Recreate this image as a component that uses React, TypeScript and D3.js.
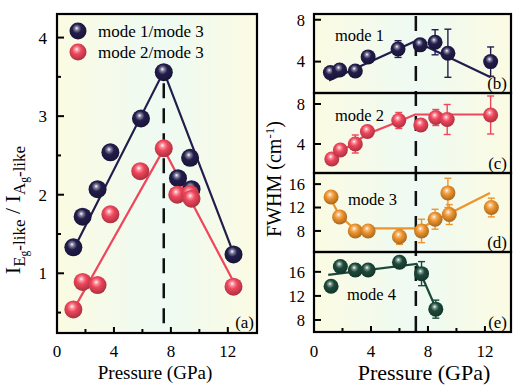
import React from "react";
import * as d3 from "d3";

// ---- panel (a): intensity ratio ----
const pressA1 = [1.15, 1.8, 2.85, 3.75, 5.9, 7.5, 8.5, 9.35, 9.45, 12.4];
const ratio1 = [1.33, 1.72, 2.07, 2.54, 2.97, 3.56, 2.21, 2.47, 2.07, 1.24];
const pressA2 = [1.15, 1.8, 2.85, 3.75, 5.85, 7.5, 8.45, 9.35, 9.45, 12.4];
const ratio2 = [0.54, 0.89, 0.85, 1.75, 2.3, 2.59, 2.0, 2.01, 1.95, 0.83];
const fitA1 = [[1.15, 1.3], [7.5, 3.57], [12.3, 1.3]];
const fitA2 = [[1.2, 0.55], [7.5, 2.58], [12.35, 0.91]];

// ---- panels (b)-(e): FWHM ----
const pressB = [1.15, 1.8, 2.9, 3.8, 5.9, 7.45, 8.5, 9.4, 12.4];
const fwhm1 = [2.95, 3.2, 3.1, 4.45, 5.2, 5.6, 5.85, 4.8, 4.0];
const err1 = [0.2, 0.2, 0.2, 0.3, 0.8, 0.4, 1.2, 2.3, 1.4];
const fitB = [[1.05, 2.2], [7.1, 5.95], [12.4, 2.5]];

const pressC = [1.25, 1.85, 2.9, 3.75, 5.95, 7.5, 8.55, 9.35, 12.4];
const fwhm2 = [2.5, 3.4, 4.0, 5.25, 6.35, 5.9, 6.65, 6.45, 6.9];
const err2 = [0.2, 0.2, 0.9, 0.3, 0.8, 0.5, 0.8, 1.5, 1.9];
const fitC = [[1.0, 2.4], [3.75, 5.0], [5.95, 6.25], [7.1, 6.95], [12.4, 6.95]];

const pressD = [1.2, 1.8, 2.9, 3.8, 6.0, 7.55, 8.5, 9.4, 9.5, 12.45];
const fwhm3 = [13.8, 10.4, 8.0, 8.0, 7.0, 8.0, 10.0, 14.5, 10.8, 12.0];
const err3 = [0.3, 0.3, 0.3, 0.3, 1.3, 2.0, 1.7, 2.5, 1.7, 1.6];
const fitD = [[1.1, 13.8], [1.8, 10.6], [2.8, 8.45], [7.45, 8.45], [12.35, 14.5]];

const pressE = [1.2, 1.85, 2.9, 3.8, 6.0, 7.55, 8.55];
const fwhm4 = [13.6, 16.9, 16.3, 16.3, 17.6, 15.7, 9.8];
const err4 = [0.3, 0.5, 1.0, 0.8, 0.5, 2.0, 1.5];
const fitE = [[1.0, 15.5], [7.2, 17.3], [8.55, 10.0]];

const xTicks = [0, 4, 8, 12];
const xMinor = [2, 6, 10];

const NAVY = "#221d4c";
const RED = "#f0465b";
const ORANGE = "#ee942e";
const GREEN = "#1c4a3a";
const FONT = "'Liberation Serif', 'Times New Roman', serif";

const line = d3.line<number[]>();

function Ball({ x, y, r, id }: { x: number; y: number; r: number; id: string }) {
  return <circle cx={x} cy={y} r={r} fill={`url(#${id})`} />;
}

function BallGrad({ id, color }: { id: string; color: string }) {
  const dark = d3.color(color)!.darker(1).formatHex();
  const light = d3.interpolateRgb(color, "#ffffff")(0.45);
  return (
    <radialGradient id={id} cx="0.45" cy="0.4" r="0.6" fx="0.42" fy="0.33">
      <stop offset="0" stopColor="#ffffff" />
      <stop offset="0.18" stopColor={light} />
      <stop offset="0.45" stopColor={color} />
      <stop offset="1" stopColor={dark} />
    </radialGradient>
  );
}

export default function App() {
  // left panel geometry
  const aL = 57, aR = 257, aT = 14, aB = 333;
  const xA = d3.scaleLinear().domain([0, 14.05]).range([aL, aR]);
  const yA = d3.scaleLinear().domain([0.24, 4.3]).range([aB, aT]);

  // right panels geometry
  const rL = 314, rR = 511;
  const xR = d3.scaleLinear().domain([0, 13.83]).range([rL, rR]);
  const bounds = [14, 93, 173, 252, 332];
  const panels = [
    { dom: [1.0, 8.55], ticks: [4, 8], px: pressB, vy: fwhm1, err: err1, fit: fitB, color: NAVY, grad: "gN", name: "mode 1", nx: 335, ny: 41, tag: "(b)" },
    { dom: [1.1, 9.1], ticks: [4, 8], px: pressC, vy: fwhm2, err: err2, fit: fitC, color: RED, grad: "gR", name: "mode 2", nx: 335, ny: 121, tag: "(c)" },
    { dom: [4.4, 17.9], ticks: [8, 12, 16], px: pressD, vy: fwhm3, err: err3, fit: fitD, color: ORANGE, grad: "gO", name: "mode 3", nx: 348, ny: 205, tag: "(d)" },
    { dom: [6.0, 19.3], ticks: [8, 12, 16], px: pressE, vy: fwhm4, err: err4, fit: fitE, color: GREEN, grad: "gG", name: "mode 4", nx: 347, ny: 300, tag: "(e)" },
  ];

  const dashA = xA(7.5);
  const dashR = xR(7.15);

  return (
    <svg width={513} height={385} style={{ position: "absolute", left: 0, top: 0 }} fontFamily={FONT}>
      <defs>
        <BallGrad id="gN" color={NAVY} />
        <BallGrad id="gR" color={RED} />
        <BallGrad id="gO" color={ORANGE} />
        <BallGrad id="gG" color={GREEN} />
        <linearGradient id="bgA" gradientUnits="userSpaceOnUse" x1={aL} x2={aR} y1={0} y2={0}>
          <stop offset="0" stopColor="#fbfbe2" />
          <stop offset={(dashA - aL) / (aR - aL)} stopColor="#eefaf3" />
          <stop offset="1" stopColor="#fbfbe2" />
        </linearGradient>
        <linearGradient id="bgR" gradientUnits="userSpaceOnUse" x1={rL} x2={rR} y1={0} y2={0}>
          <stop offset="0" stopColor="#fbfbe2" />
          <stop offset={(dashR - rL) / (rR - rL)} stopColor="#eefaf3" />
          <stop offset="1" stopColor="#fbfbe2" />
        </linearGradient>
        <clipPath id="clipA">
          <rect x={aL} y={aT} width={aR - aL} height={aB - aT} />
        </clipPath>
        {panels.map((p, i) => (
          <clipPath id={`clipR${i}`} key={i}>
            <rect x={rL} y={bounds[i]} width={rR - rL} height={bounds[i + 1] - bounds[i]} />
          </clipPath>
        ))}
      </defs>

      {/* ===== panel (a) ===== */}
      <rect x={aL} y={aT} width={aR - aL} height={aB - aT} fill="url(#bgA)" />
      <g clipPath="url(#clipA)">
        <line x1={dashA} x2={dashA} y1={yA(3.42)} y2={aB} stroke="#111" strokeWidth={2.5} strokeDasharray="15,10" />
        <path d={line(fitA1.map(([p, v]) => [xA(p), yA(v)]))!} fill="none" stroke={NAVY} strokeWidth={2.2} />
        <path d={line(fitA2.map(([p, v]) => [xA(p), yA(v)]))!} fill="none" stroke={RED} strokeWidth={2.2} />
        {pressA1.map((p, i) => (
          <Ball key={"a1" + i} x={xA(p)} y={yA(ratio1[i])} r={9} id="gN" />
        ))}
        {pressA2.map((p, i) => (
          <Ball key={"a2" + i} x={xA(p)} y={yA(ratio2[i])} r={9} id="gR" />
        ))}
      </g>
      {/* legend */}
      <Ball x={78} y={31} r={8.5} id="gN" />
      <text x={98} y={36.5} fontSize={17}>mode 1/mode 3</text>
      <Ball x={78} y={52} r={8.5} id="gR" />
      <text x={98} y={57.5} fontSize={17}>mode 2/mode 3</text>
      <text x={254} y={328} fontSize={17} textAnchor="end">(a)</text>
      {/* axes (a) */}
      {d3.range(0.5, 4.01, 0.5).map((v) => (
        <line key={"ya" + v} x1={aL} x2={aL + (v % 1 === 0 ? 7 : 4)} y1={yA(v)} y2={yA(v)} stroke="#000" strokeWidth={2} />
      ))}
      {[1, 2, 3, 4].map((v) => (
        <text key={"yl" + v} x={47} y={yA(v)} dy="0.35em" fontSize={17} textAnchor="end">{v}</text>
      ))}
      {xTicks.concat(xMinor).filter((v) => v > 0).map((v) => (
        <line key={"xa" + v} x1={xA(v)} x2={xA(v)} y1={aB} y2={aB - (xTicks.includes(v) ? 6 : 4)} stroke="#000" strokeWidth={2} />
      ))}
      {xTicks.map((v) => (
        <text key={"xl" + v} x={xA(v)} y={357} fontSize={17} textAnchor="middle">{v}</text>
      ))}
      <rect x={aL} y={aT} width={aR - aL} height={aB - aT} fill="none" stroke="#000" strokeWidth={2.2} />
      <text x={155} y={379} fontSize={19} textAnchor="middle">Pressure (GPa)</text>
      <text transform="rotate(-90)" x={-210} y={20} fontSize={22} textAnchor="middle">
        <tspan>I</tspan>
        <tspan fontSize={17} dy={5}>E</tspan>
        <tspan fontSize={11.5} dy={3}>g</tspan>
        <tspan fontSize={17} dy={-3}>-like</tspan>
        <tspan dy={-5}>{"\u00a0/\u00a0I"}</tspan>
        <tspan fontSize={17} dy={5}>A</tspan>
        <tspan fontSize={11.5} dy={3}>g</tspan>
        <tspan fontSize={17} dy={-3}>-like</tspan>
      </text>

      {/* ===== panels (b)-(e) ===== */}
      <rect x={rL} y={bounds[0]} width={rR - rL} height={bounds[4] - bounds[0]} fill="url(#bgR)" />
      <line x1={dashR} x2={dashR} y1={bounds[0]} y2={bounds[4]} stroke="#111" strokeWidth={2.5} strokeDasharray="15,10" strokeDashoffset={-2} />
      {panels.map((p, i) => {
        const y = d3.scaleLinear().domain(p.dom).range([bounds[i + 1], bounds[i]]);
        return (
          <g key={"p" + i}>
            <g clipPath={`url(#clipR${i})`}>
              <path d={line(p.fit.map(([a, v]) => [xR(a), y(v)]))!} fill="none" stroke={p.color} strokeWidth={2.2} />
              {p.px.map((a, j) => (
                <g key={j} stroke={p.color} strokeWidth={1.4}>
                  <line x1={xR(a)} x2={xR(a)} y1={y(p.vy[j] - p.err[j])} y2={y(p.vy[j] + p.err[j])} />
                  <line x1={xR(a) - 3.5} x2={xR(a) + 3.5} y1={y(p.vy[j] - p.err[j])} y2={y(p.vy[j] - p.err[j])} />
                  <line x1={xR(a) - 3.5} x2={xR(a) + 3.5} y1={y(p.vy[j] + p.err[j])} y2={y(p.vy[j] + p.err[j])} />
                </g>
              ))}
              {p.px.map((a, j) => (
                <Ball key={"b" + j} x={xR(a)} y={y(p.vy[j])} r={7.5} id={p.grad} />
              ))}
            </g>
            {p.ticks.map((v) => (
              <g key={"t" + v}>
                <line x1={rL} x2={rL + 7} y1={y(v)} y2={y(v)} stroke="#000" strokeWidth={2} />
                <text x={305} y={y(v)} dy="0.35em" fontSize={16.5} textAnchor="end">{v}</text>
              </g>
            ))}
            <text x={p.nx} y={p.ny} fontSize={16.5}>{p.name}</text>
            <text x={507} y={bounds[i + 1] - 4.5} fontSize={17} textAnchor="end">{p.tag}</text>
            <rect x={rL} y={bounds[i]} width={rR - rL} height={bounds[i + 1] - bounds[i]} fill="none" stroke="#000" strokeWidth={2.2} />
          </g>
        );
      })}
      {xTicks.concat(xMinor).filter((v) => v > 0).map((v) => (
        <line key={"xr" + v} x1={xR(v)} x2={xR(v)} y1={bounds[4]} y2={bounds[4] - (xTicks.includes(v) ? 6 : 4)} stroke="#000" strokeWidth={2} />
      ))}
      {xTicks.map((v) => (
        <text key={"xrl" + v} x={xR(v)} y={357} fontSize={17} textAnchor="middle">{v}</text>
      ))}
      <text x={424} y={380} fontSize={22} textAnchor="middle">Pressure (GPa)</text>
      <text transform="rotate(-90)" x={-179} y={281} fontSize={20} textAnchor="middle">
        FWHM (cm<tspan fontSize={13} dy={-7}>-1</tspan><tspan dy={7}>)</tspan>
      </text>
    </svg>
  );
}
